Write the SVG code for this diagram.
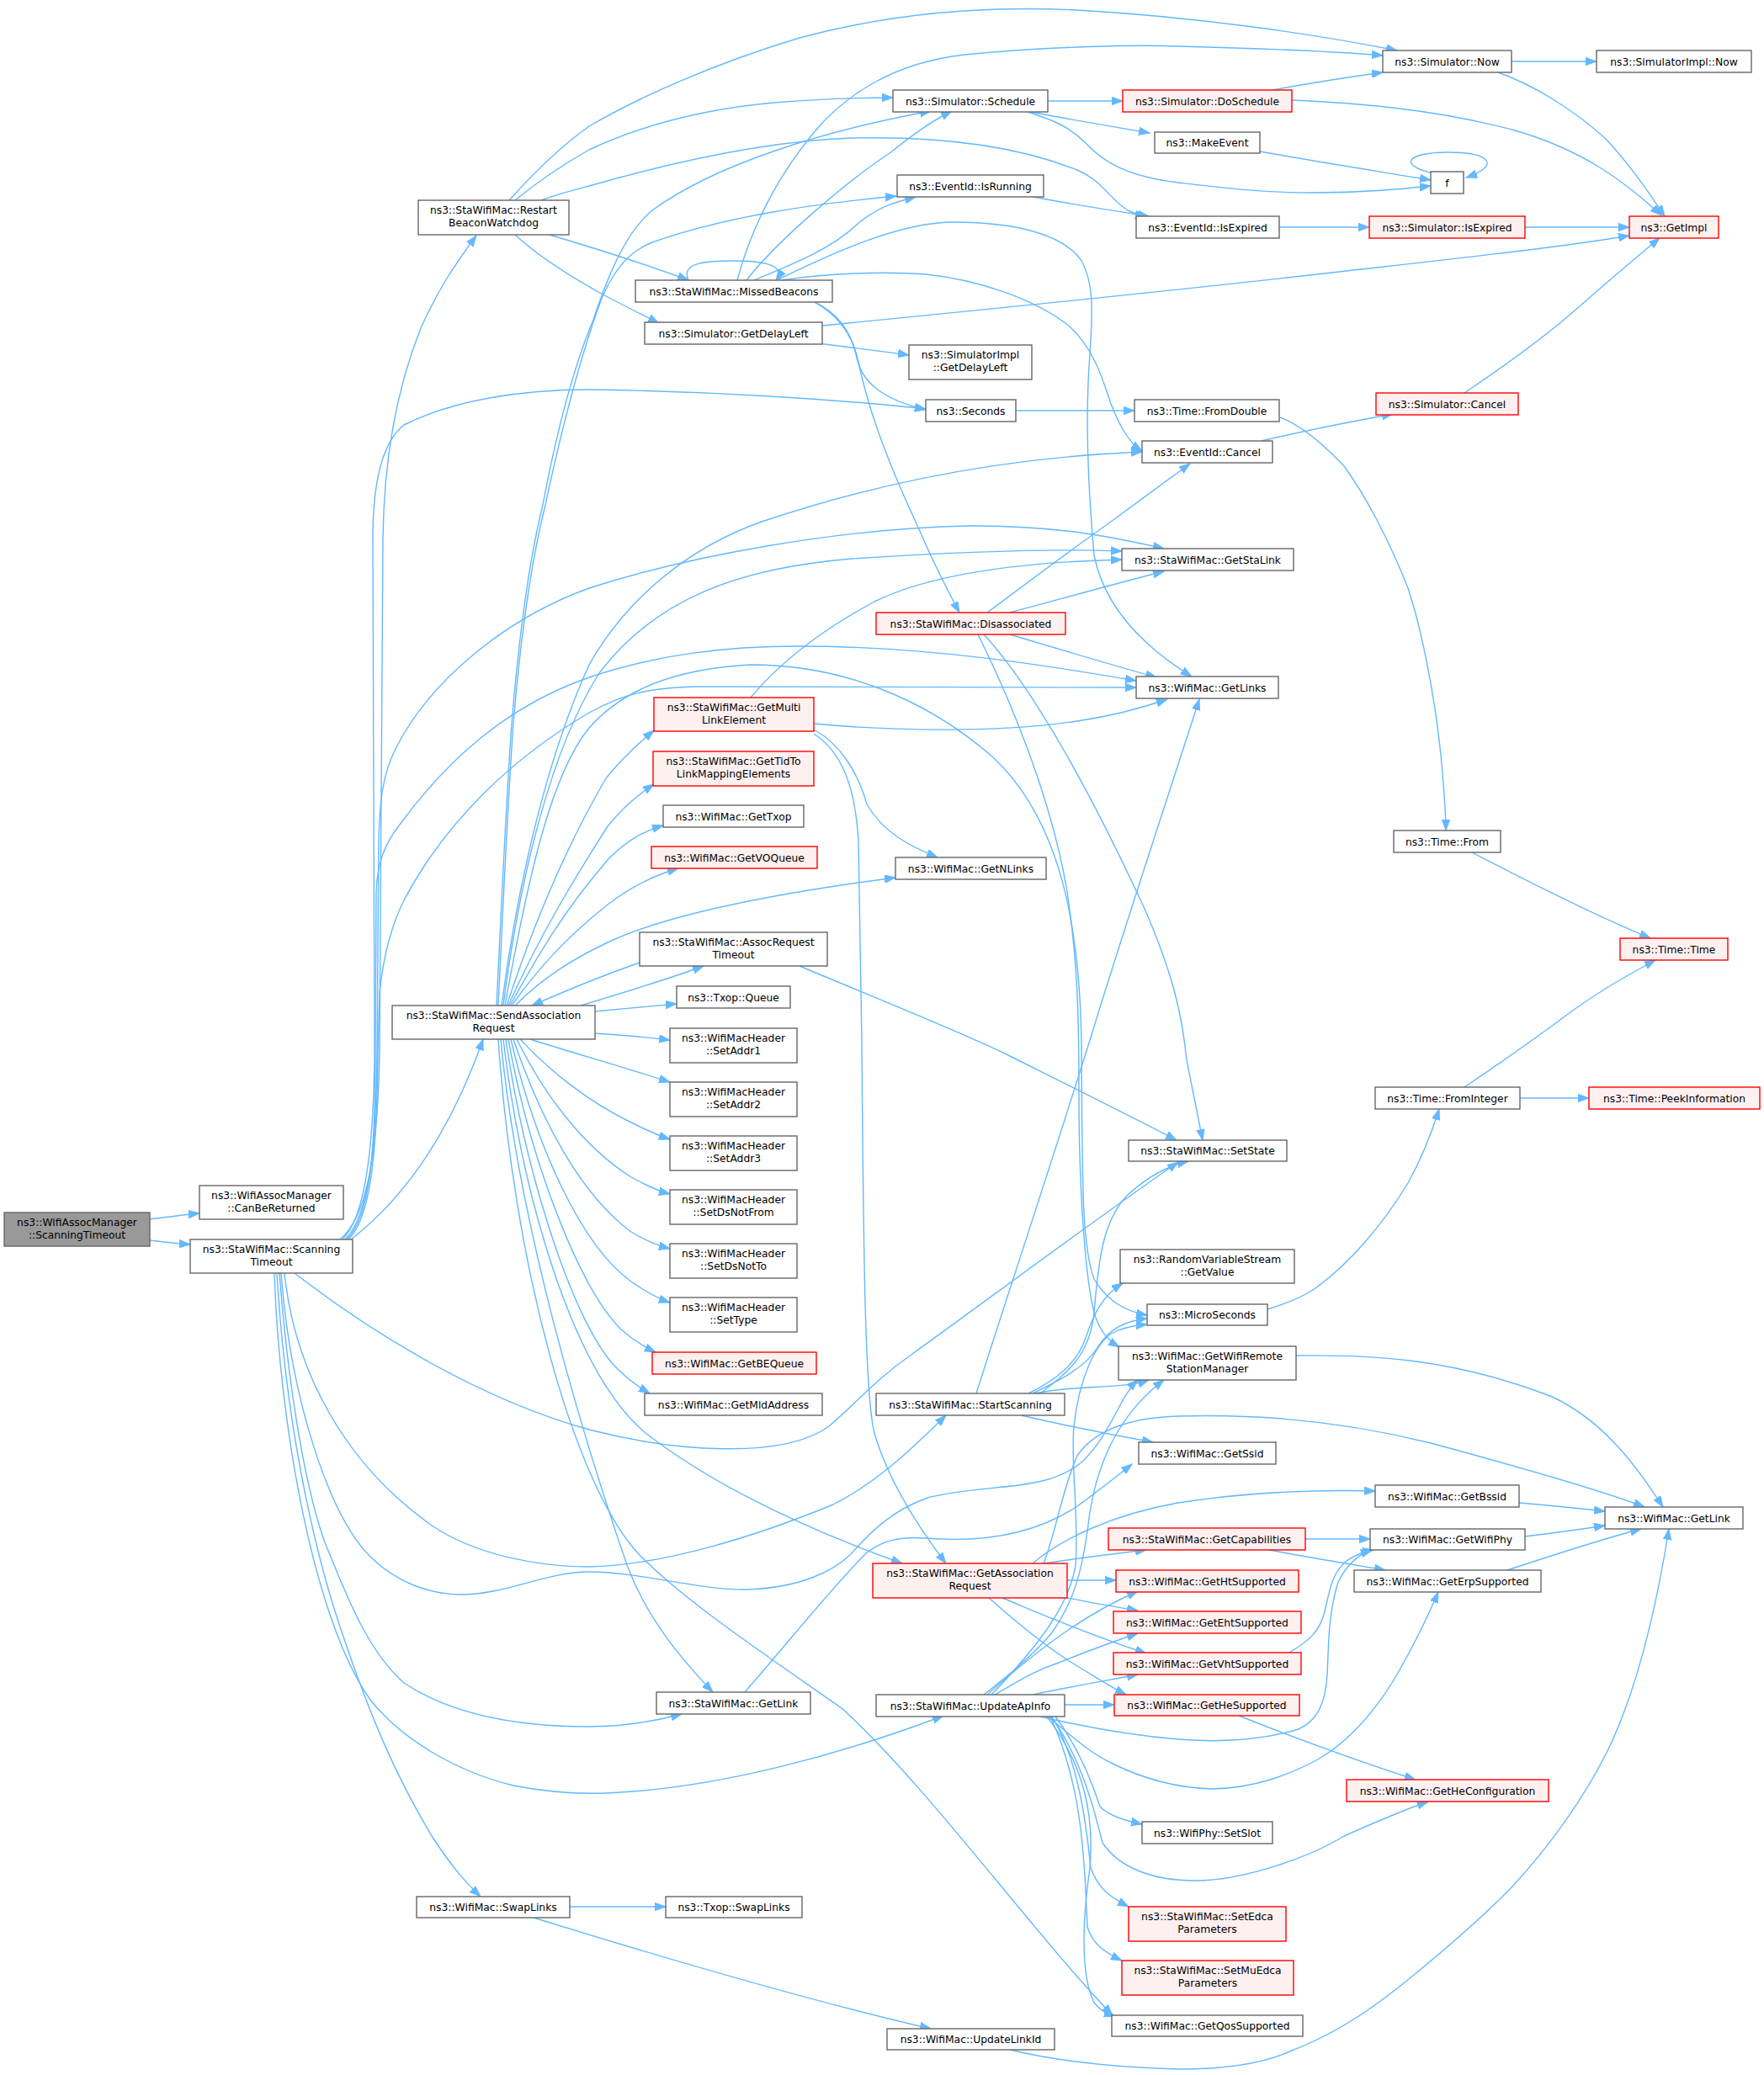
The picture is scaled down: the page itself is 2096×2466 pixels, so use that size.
<svg xmlns="http://www.w3.org/2000/svg" width="2096" height="2466" viewBox="0 0 2096 2466">
<style>
.w{fill:#ffffff;stroke:#666666;stroke-width:1.4}
.r{fill:#fff0f0;stroke:#ff0000;stroke-width:1.4}
.g{fill:#999999;stroke:#666666;stroke-width:1.4}
text{font-family:"DejaVu Sans","Liberation Sans",sans-serif;font-size:12.3px;fill:#000000;text-anchor:middle}
#edges path{fill:none;stroke:#63b8ff;stroke-width:1.4;marker-end:url(#a)}
</style>
<defs>
<marker id="a" markerUnits="userSpaceOnUse" markerWidth="15" markerHeight="12" refX="13" refY="5" orient="auto">
<path d="M0,0.3 L13,5 L0,9.7 z" fill="#63b8ff" stroke="#63b8ff" stroke-width="1"/>
</marker>
</defs>
<rect width="2096" height="2466" fill="#ffffff"/>
<g id="edges">
<path d="M178,1449 C195,1447 215,1444 237,1442"/>
<path d="M178,1474 C195,1476 210,1478 226,1479"/>
<path d="M404,1473 C436,1447 449,1370 451,1250 L455,640 C456,560 468,470 500,390 C520,345 540,315 566,280"/>
<path d="M407,1473 C433,1447 444,1370 445,1250 L443,640 C443,570 455,525 480,505 C540,475 620,463 700,463 C840,465 990,474 1100,486"/>
<path d="M410,1473 C438,1445 447,1370 448,1250 L450,1000 C451,950 455,920 470,890 C510,810 600,735 700,699 C820,660 1000,628 1150,625 C1260,624 1330,640 1383,652"/>
<path d="M412,1473 C440,1445 446,1370 446,1250 L447,1060 C448,1030 455,1005 475,980 C530,905 600,840 700,805 C780,778 860,768 950,768 C1100,768 1240,790 1350,809"/>
<path d="M414,1473 C441,1446 448,1370 449,1250 L451,1180 C455,1140 465,1100 480,1070 C530,975 610,900 700,847 C740,825 770,817 830,816 L1350,817"/>
<path d="M417,1473 C470,1432 530,1360 574,1235"/>
<path d="M350,1513 C430,1575 560,1660 700,1699 C800,1725 930,1735 985,1695 C1020,1665 1040,1640 1080,1612 C1180,1540 1300,1450 1400,1381"/>
<path d="M334,1513 C345,1660 390,1800 440,1850 C470,1880 510,1895 548,1895 C600,1895 650,1868 700,1868 C760,1868 830,1890 887,1889 C950,1887 990,1868 1012,1846 C1035,1820 1060,1795 1102,1780 C1170,1762 1240,1775 1285,1738 C1320,1705 1330,1660 1352,1640"/>
<path d="M326,1513 C332,1700 375,1930 440,2020 C475,2065 540,2105 610,2122 C650,2130 690,2132 720,2131 C850,2126 1000,2085 1121,2039"/>
<path d="M329,1513 C340,1700 375,1850 408,1945 C440,2040 470,2110 513,2182 C538,2220 553,2237 571,2254"/>
<path d="M332,1513 C345,1680 370,1800 393,1850 C415,1905 440,1965 480,2000 C540,2040 620,2052 700,2052 C740,2052 780,2045 810,2037"/>
<path d="M338,1513 C350,1630 410,1740 513,1813 C565,1848 640,1862 700,1862 C790,1860 900,1825 990,1788 C1045,1760 1085,1720 1124,1682"/>
<path d="M590,1195 C597,1050 602,940 608,860 C618,740 630,660 645,600 C660,520 680,440 705,380 C725,320 745,275 775,250 C850,195 980,155 1106,132"/>
<path d="M592,1195 C599,1050 604,940 610,860 C620,740 633,660 648,600 C665,520 685,440 710,368 C725,325 745,300 775,288 C860,258 960,243 1065,233"/>
<path d="M596,1195 C615,1050 650,900 700,790 C745,710 820,650 905,620 C1010,585 1160,545 1357,537"/>
<path d="M598,1195 C618,1040 655,890 712,800 C780,710 880,675 1012,664 C1150,655 1260,652 1333,655"/>
<path d="M600,1195 C628,1040 655,920 700,865 C740,820 800,795 892,790 C1000,790 1100,830 1180,900 C1260,975 1283,1100 1285,1240 C1286,1400 1285,1480 1300,1520 C1315,1545 1335,1558 1363,1563"/>
<path d="M602,1195 C640,1080 682,990 720,925 C740,900 758,884 777,868"/>
<path d="M604,1195 C642,1110 682,1045 722,982 C742,957 760,943 777,932"/>
<path d="M606,1195 C642,1130 672,1080 722,1022 C745,998 765,988 788,981"/>
<path d="M608,1195 C640,1150 672,1115 722,1075 C752,1052 778,1040 806,1032"/>
<path d="M612,1195 C645,1162 680,1140 722,1120 C790,1088 910,1063 1064,1043"/>
<path d="M690,1195 C740,1180 790,1165 836,1148"/>
<path d="M707,1202 C740,1199 770,1196 804,1193"/>
<path d="M707,1228 C740,1230 770,1233 796,1236"/>
<path d="M760,1144 C720,1158 680,1174 632,1195"/>
<path d="M630,1235 C670,1248 730,1265 796,1286"/>
<path d="M618,1235 C652,1272 700,1310 750,1334 C770,1344 784,1350 796,1354"/>
<path d="M614,1235 C646,1300 692,1362 750,1399 C770,1410 784,1416 796,1419"/>
<path d="M610,1235 C642,1330 690,1420 750,1464 C770,1476 784,1481 796,1484"/>
<path d="M607,1235 C636,1360 690,1480 750,1523 C770,1537 784,1544 796,1548"/>
<path d="M604,1235 C630,1380 688,1530 738,1580 C754,1594 766,1601 779,1607"/>
<path d="M601,1235 C625,1400 684,1580 734,1627 C748,1641 760,1649 772,1656"/>
<path d="M598,1235 C620,1420 680,1630 767,1703 C860,1775 980,1825 1072,1858"/>
<path d="M595,1235 C615,1450 690,1700 745,1860 C768,1922 808,1970 847,2011"/>
<path d="M592,1235 C610,1500 680,1760 758,1846 C810,1900 900,1960 1000,2030 C1100,2120 1230,2300 1322,2395"/>
<path d="M967,867 C1000,885 1020,920 1030,956 C1050,990 1080,1005 1114,1019"/>
<path d="M967,872 C998,892 1016,930 1020,1000 L1024,1240 C1026,1500 1028,1670 1040,1707 C1058,1765 1095,1820 1124,1858"/>
<path d="M967,860 C1050,868 1180,872 1280,857 C1320,851 1355,842 1387,831"/>
<path d="M892,829 C920,795 965,755 1039,715 C1110,680 1220,668 1333,665"/>
<path d="M1200,728 C1260,712 1320,695 1383,679"/>
<path d="M1173,728 C1220,693 1280,648 1320,620 C1350,598 1385,572 1414,551"/>
<path d="M1200,754 C1260,772 1320,790 1374,805"/>
<path d="M1169,754 C1230,820 1300,950 1360,1080 C1395,1160 1405,1210 1410,1260 C1418,1300 1424,1330 1429,1355"/>
<path d="M1162,754 C1200,830 1250,950 1268,1060 C1280,1140 1282,1200 1282,1300 C1282,1420 1290,1520 1300,1560 C1306,1580 1315,1592 1330,1601"/>
<path d="M876,333 C890,280 920,210 977,146 C1010,112 1060,75 1146,65 C1250,55 1350,53 1400,55 C1480,57 1570,60 1643,66"/>
<path d="M887,333 C920,290 1000,220 1057,182 C1085,160 1105,145 1131,132"/>
<path d="M896,333 C940,315 990,295 1020,265 C1045,245 1065,240 1088,234"/>
<path d="M818,333 C808,312 840,310 870,310 C905,310 935,314 922,333"/>
<path d="M968,359 C995,375 1012,395 1020,430 C1032,490 1060,560 1088,620 C1105,660 1125,700 1140,728"/>
<path d="M968,359 C995,372 1012,395 1018,425 C1024,455 1050,475 1100,487"/>
<path d="M923,333 C990,300 1070,264 1133,264 C1210,264 1265,280 1285,310 C1305,345 1295,400 1293,455 C1290,530 1295,600 1300,660 C1310,710 1345,760 1416,804"/>
<path d="M928,333 C980,325 1050,322 1100,326 C1160,332 1230,355 1271,388 C1300,415 1310,450 1320,480 C1330,505 1340,525 1357,536"/>
<path d="M605,238 C630,210 665,175 700,150 C760,115 850,75 950,45 C1050,18 1160,6 1280,12 C1420,20 1560,40 1660,60"/>
<path d="M612,238 C640,215 670,195 700,178 C760,150 830,130 920,122 C970,118 1020,116 1061,116"/>
<path d="M643,238 C665,230 685,225 700,221 C780,198 900,168 1012,164 C1100,162 1200,170 1280,202 C1310,215 1320,238 1340,250 C1348,254 1355,256 1362,257"/>
<path d="M653,279 C700,293 770,315 818,333"/>
<path d="M612,279 C640,305 680,330 720,352 C745,365 765,375 783,384"/>
<path d="M1245,120 L1334,120"/>
<path d="M1220,132 C1270,142 1320,150 1366,158"/>
<path d="M1218,132 C1250,142 1270,150 1290,170 C1310,192 1340,210 1400,217 C1460,224 1500,229 1560,229 C1620,229 1660,225 1700,221"/>
<path d="M1227,234 C1270,242 1320,250 1365,257"/>
<path d="M1512,107 C1560,98 1600,92 1643,86"/>
<path d="M1535,119 C1600,122 1700,128 1800,155 C1880,178 1930,215 1974,256"/>
<path d="M1796,73 L1897,73"/>
<path d="M1780,86 C1820,100 1870,130 1909,166 C1940,200 1960,230 1978,257"/>
<path d="M1497,180 C1570,193 1640,204 1700,214"/>
<path d="M1703,206 C1660,196 1672,181 1720,181 C1770,181 1785,196 1742,211"/>
<path d="M1520,270 L1627,270"/>
<path d="M1812,270 L1936,270"/>
<path d="M977,387 C1150,370 1400,345 1600,322 C1750,305 1860,293 1936,280"/>
<path d="M972,408 C1010,413 1045,417 1080,422"/>
<path d="M1207,488 L1348,488"/>
<path d="M1499,524 C1550,512 1600,502 1655,492"/>
<path d="M1740,467 C1780,440 1830,405 1870,370 C1910,335 1945,305 1972,283"/>
<path d="M1521,496 C1540,503 1565,520 1597,554 C1620,585 1650,640 1673,699 C1690,750 1705,830 1712,897 C1716,940 1718,965 1718,987"/>
<path d="M1749,1013 C1820,1050 1900,1090 1961,1115"/>
<path d="M1740,1292 C1780,1265 1830,1230 1870,1200 C1905,1175 1935,1158 1967,1141"/>
<path d="M1806,1305 L1888,1305"/>
<path d="M1506,1556 C1525,1550 1545,1543 1560,1533 C1600,1505 1640,1460 1673,1406 C1690,1375 1700,1350 1710,1318"/>
<path d="M950,1148 C1050,1190 1150,1230 1200,1255 C1280,1295 1340,1325 1398,1355"/>
<path d="M1160,1656 C1200,1530 1260,1350 1300,1220 C1340,1090 1390,940 1425,831"/>
<path d="M1222,1656 C1255,1640 1280,1620 1290,1590 C1300,1560 1310,1540 1334,1525"/>
<path d="M1227,1656 C1260,1640 1290,1625 1305,1600 C1318,1580 1335,1570 1363,1567"/>
<path d="M1236,1656 C1270,1630 1295,1610 1300,1560 C1305,1500 1310,1450 1340,1420 C1365,1397 1390,1385 1412,1380"/>
<path d="M1230,1656 C1280,1645 1330,1652 1365,1640"/>
<path d="M1213,1682 C1270,1695 1320,1705 1370,1714"/>
<path d="M1265,2026 L1324,2026"/>
<path d="M1227,2014 C1270,2005 1310,1998 1352,1990"/>
<path d="M1182,2014 C1210,1998 1230,1985 1258,1976 C1290,1963 1320,1952 1352,1941"/>
<path d="M1173,2014 C1200,1990 1230,1965 1258,1945 C1290,1922 1320,1905 1352,1891"/>
<path d="M1169,2014 C1200,1990 1230,1965 1250,1940 C1275,1905 1285,1870 1292,1820 C1300,1740 1330,1680 1383,1640"/>
<path d="M1178,2014 C1230,1960 1270,1910 1278,1860 C1282,1800 1272,1740 1276,1695 C1282,1640 1300,1600 1320,1585 C1335,1577 1348,1575 1363,1574"/>
<path d="M1236,2040 C1300,2055 1350,2063 1400,2067 C1450,2071 1500,2068 1543,2055 C1565,2045 1575,2025 1577,1990 C1579,1950 1578,1920 1590,1880 C1600,1860 1612,1848 1630,1842"/>
<path d="M1245,2040 C1270,2060 1290,2080 1320,2095 C1360,2115 1400,2125 1441,2126 C1490,2125 1530,2110 1566,2091 C1610,2065 1640,2024 1660,1990 C1680,1955 1695,1925 1709,1892"/>
<path d="M1254,2040 C1280,2075 1295,2110 1307,2147 C1318,2158 1335,2163 1357,2168"/>
<path d="M1249,2040 C1285,2090 1300,2150 1310,2190 C1330,2220 1370,2235 1420,2235 C1480,2235 1560,2205 1597,2182 C1640,2163 1670,2150 1697,2141"/>
<path d="M1250,2040 C1280,2090 1290,2160 1296,2220 C1305,2245 1320,2255 1341,2266"/>
<path d="M1248,2040 C1285,2120 1288,2200 1292,2290 C1298,2310 1312,2320 1333,2330"/>
<path d="M1244,2040 C1290,2100 1300,2160 1295,2220 C1285,2290 1285,2350 1300,2380 C1308,2390 1315,2393 1325,2396"/>
<path d="M1268,1878 L1326,1878"/>
<path d="M1268,1899 C1295,1904 1320,1909 1352,1914"/>
<path d="M1191,1899 C1230,1915 1280,1938 1362,1965"/>
<path d="M1175,1899 C1210,1930 1250,1962 1280,1980 C1305,1995 1320,2005 1338,2014"/>
<path d="M1240,1858 C1280,1852 1320,1847 1362,1842"/>
<path d="M1227,1858 C1260,1830 1320,1800 1400,1786 C1470,1775 1550,1770 1634,1772"/>
<path d="M885,2011 C930,1960 985,1890 1030,1845 C1050,1830 1070,1826 1100,1828 C1150,1832 1220,1830 1280,1790 C1305,1772 1325,1756 1345,1740"/>
<path d="M1240,1858 C1255,1820 1262,1770 1280,1730 C1300,1700 1340,1685 1400,1683 C1500,1680 1600,1690 1700,1715 C1800,1742 1900,1770 1954,1791"/>
<path d="M1551,1829 L1628,1829"/>
<path d="M1508,1842 C1550,1850 1600,1858 1646,1866"/>
<path d="M1532,1964 C1555,1950 1568,1940 1574,1915 C1580,1890 1582,1870 1600,1855 C1610,1848 1620,1844 1632,1842"/>
<path d="M1472,2039 C1540,2066 1620,2095 1682,2115"/>
<path d="M1791,1866 C1840,1850 1900,1830 1950,1817"/>
<path d="M1805,1786 C1840,1789 1870,1792 1907,1796"/>
<path d="M1812,1826 C1845,1822 1875,1818 1907,1813"/>
<path d="M1540,1611 C1620,1610 1720,1612 1842,1659 C1900,1685 1940,1735 1976,1791"/>
<path d="M1200,2436 C1250,2448 1320,2457 1400,2459 C1460,2459 1500,2452 1530,2439 C1580,2420 1620,2395 1664,2360 C1720,2315 1760,2280 1798,2241 C1840,2195 1880,2140 1909,2083 C1940,2020 1965,1930 1983,1817"/>
<path d="M677,2266 L791,2266"/>
<path d="M634,2279 C760,2318 950,2375 1106,2411"/>
</g>
<g id="n1"><rect class="g" x="5" y="1441" width="173" height="40"/><text x="91.5" y="1457.3">ns3::WifiAssocManager<tspan x="91.5" dy="14.5">::ScanningTimeout</tspan></text></g>
<g id="n2"><rect class="w" x="237" y="1409" width="171" height="40"/><text x="322.5" y="1425.3">ns3::WifiAssocManager<tspan x="322.5" dy="14.5">::CanBeReturned</tspan></text></g>
<g id="n3"><rect class="w" x="226" y="1473" width="193" height="40"/><text x="322.5" y="1489.3">ns3::StaWifiMac::Scanning<tspan x="322.5" dy="14.5">Timeout</tspan></text></g>
<g id="n4"><rect class="w" x="497" y="238" width="179" height="41"/><text x="586.5" y="254.3">ns3::StaWifiMac::Restart<tspan x="586.5" dy="14.5">BeaconWatchdog</tspan></text></g>
<g id="n5"><rect class="w" x="466" y="1195" width="241" height="40"/><text x="586.5" y="1211.3">ns3::StaWifiMac::SendAssociation<tspan x="586.5" dy="14.5">Request</tspan></text></g>
<g id="n6"><rect class="w" x="780" y="2011" width="183" height="26"/><text x="871.5" y="2028.5">ns3::StaWifiMac::GetLink</text></g>
<g id="n7"><rect class="w" x="495" y="2254" width="182" height="25"/><text x="586" y="2271">ns3::WifiMac::SwapLinks</text></g>
<g id="n8"><rect class="w" x="755" y="333" width="234" height="26"/><text x="872" y="350.5">ns3::StaWifiMac::MissedBeacons</text></g>
<g id="n9"><rect class="w" x="766" y="383" width="211" height="26"/><text x="871.5" y="400.5">ns3::Simulator::GetDelayLeft</text></g>
<g id="n10"><rect class="w" x="1061" y="107" width="184" height="26"/><text x="1153" y="124.5">ns3::Simulator::Schedule</text></g>
<g id="n11"><rect class="w" x="1066" y="208" width="174" height="26"/><text x="1153" y="225.5">ns3::EventId::IsRunning</text></g>
<g id="n12"><rect class="w" x="1080" y="410" width="146" height="41"/><text x="1153" y="426.3">ns3::SimulatorImpl<tspan x="1153" dy="14.5">::GetDelayLeft</tspan></text></g>
<g id="n13"><rect class="w" x="1100" y="475" width="107" height="26"/><text x="1153.5" y="492.5">ns3::Seconds</text></g>
<g id="n14"><rect class="r" x="1041" y="728" width="225" height="26"/><text x="1153.5" y="745.5">ns3::StaWifiMac::Disassociated</text></g>
<g id="n15"><rect class="r" x="777" y="829" width="190" height="40"/><text x="872" y="845.3">ns3::StaWifiMac::GetMulti<tspan x="872" dy="14.5">LinkElement</tspan></text></g>
<g id="n16"><rect class="r" x="776" y="893" width="191" height="41"/><text x="871.5" y="909.3">ns3::StaWifiMac::GetTidTo<tspan x="871.5" dy="14.5">LinkMappingElements</tspan></text></g>
<g id="n17"><rect class="w" x="788" y="957" width="167" height="26"/><text x="871.5" y="974.5">ns3::WifiMac::GetTxop</text></g>
<g id="n18"><rect class="r" x="774" y="1006" width="197" height="26"/><text x="872.5" y="1023.5">ns3::WifiMac::GetVOQueue</text></g>
<g id="n19"><rect class="w" x="1064" y="1019" width="179" height="26"/><text x="1153.5" y="1036.5">ns3::WifiMac::GetNLinks</text></g>
<g id="n20"><rect class="w" x="760" y="1108" width="223" height="40"/><text x="871.5" y="1124.3">ns3::StaWifiMac::AssocRequest<tspan x="871.5" dy="14.5">Timeout</tspan></text></g>
<g id="n21"><rect class="w" x="804" y="1172" width="135" height="26"/><text x="871.5" y="1189.5">ns3::Txop::Queue</text></g>
<g id="n22"><rect class="w" x="796" y="1222" width="151" height="41"/><text x="871.5" y="1238.3">ns3::WifiMacHeader<tspan x="871.5" dy="14.5">::SetAddr1</tspan></text></g>
<g id="n23"><rect class="w" x="796" y="1286" width="151" height="41"/><text x="871.5" y="1302.3">ns3::WifiMacHeader<tspan x="871.5" dy="14.5">::SetAddr2</tspan></text></g>
<g id="n24"><rect class="w" x="796" y="1350" width="151" height="41"/><text x="871.5" y="1366.3">ns3::WifiMacHeader<tspan x="871.5" dy="14.5">::SetAddr3</tspan></text></g>
<g id="n25"><rect class="w" x="796" y="1414" width="151" height="41"/><text x="871.5" y="1430.3">ns3::WifiMacHeader<tspan x="871.5" dy="14.5">::SetDsNotFrom</tspan></text></g>
<g id="n26"><rect class="w" x="796" y="1478" width="151" height="41"/><text x="871.5" y="1494.3">ns3::WifiMacHeader<tspan x="871.5" dy="14.5">::SetDsNotTo</tspan></text></g>
<g id="n27"><rect class="w" x="796" y="1542" width="151" height="41"/><text x="871.5" y="1558.3">ns3::WifiMacHeader<tspan x="871.5" dy="14.5">::SetType</tspan></text></g>
<g id="n28"><rect class="r" x="775" y="1607" width="195" height="26"/><text x="872.5" y="1624.5">ns3::WifiMac::GetBEQueue</text></g>
<g id="n29"><rect class="w" x="766" y="1656" width="211" height="26"/><text x="871.5" y="1673.5">ns3::WifiMac::GetMldAddress</text></g>
<g id="n30"><rect class="w" x="1041" y="1656" width="224" height="26"/><text x="1153" y="1673.5">ns3::StaWifiMac::StartScanning</text></g>
<g id="n31"><rect class="r" x="1037" y="1858" width="231" height="41"/><text x="1152.5" y="1874.3">ns3::StaWifiMac::GetAssociation<tspan x="1152.5" dy="14.5">Request</tspan></text></g>
<g id="n32"><rect class="w" x="1041" y="2014" width="224" height="26"/><text x="1153" y="2031.5">ns3::StaWifiMac::UpdateApInfo</text></g>
<g id="n33"><rect class="w" x="791" y="2254" width="162" height="25"/><text x="872" y="2271">ns3::Txop::SwapLinks</text></g>
<g id="n34"><rect class="w" x="1054" y="2411" width="199" height="25"/><text x="1153.5" y="2428">ns3::WifiMac::UpdateLinkId</text></g>
<g id="n35"><rect class="w" x="1643" y="60" width="153" height="26"/><text x="1719.5" y="77.5">ns3::Simulator::Now</text></g>
<g id="n36"><rect class="r" x="1334" y="107" width="201" height="26"/><text x="1434.5" y="124.5">ns3::Simulator::DoSchedule</text></g>
<g id="n37"><rect class="w" x="1372" y="157" width="125" height="25"/><text x="1434.5" y="174">ns3::MakeEvent</text></g>
<g id="n38"><rect class="w" x="1350" y="257" width="170" height="26"/><text x="1435" y="274.5">ns3::EventId::IsExpired</text></g>
<g id="n39"><rect class="w" x="1348" y="475" width="172" height="26"/><text x="1434" y="492.5">ns3::Time::FromDouble</text></g>
<g id="n40"><rect class="w" x="1357" y="524" width="155" height="26"/><text x="1434.5" y="541.5">ns3::EventId::Cancel</text></g>
<g id="n41"><rect class="w" x="1333" y="652" width="204" height="26"/><text x="1435" y="669.5">ns3::StaWifiMac::GetStaLink</text></g>
<g id="n42"><rect class="w" x="1350" y="804" width="169" height="26"/><text x="1434.5" y="821.5">ns3::WifiMac::GetLinks</text></g>
<g id="n43"><rect class="w" x="1341" y="1355" width="188" height="25"/><text x="1435" y="1372">ns3::StaWifiMac::SetState</text></g>
<g id="n44"><rect class="w" x="1331" y="1485" width="207" height="40"/><text x="1434.5" y="1501.3">ns3::RandomVariableStream<tspan x="1434.5" dy="14.5">::GetValue</tspan></text></g>
<g id="n45"><rect class="w" x="1363" y="1550" width="143" height="25"/><text x="1434.5" y="1567">ns3::MicroSeconds</text></g>
<g id="n46"><rect class="w" x="1329" y="1600" width="211" height="40"/><text x="1434.5" y="1616.3">ns3::WifiMac::GetWifiRemote<tspan x="1434.5" dy="14.5">StationManager</tspan></text></g>
<g id="n47"><rect class="w" x="1353" y="1714" width="163" height="26"/><text x="1434.5" y="1731.5">ns3::WifiMac::GetSsid</text></g>
<g id="n48"><rect class="w" x="1634" y="1765" width="171" height="26"/><text x="1719.5" y="1782.5">ns3::WifiMac::GetBssid</text></g>
<g id="n49"><rect class="r" x="1317" y="1816" width="234" height="26"/><text x="1434" y="1833.5">ns3::StaWifiMac::GetCapabilities</text></g>
<g id="n50"><rect class="r" x="1326" y="1866" width="217" height="26"/><text x="1434.5" y="1883.5">ns3::WifiMac::GetHtSupported</text></g>
<g id="n51"><rect class="r" x="1323" y="1915" width="223" height="26"/><text x="1434.5" y="1932.5">ns3::WifiMac::GetEhtSupported</text></g>
<g id="n52"><rect class="r" x="1323" y="1964" width="223" height="26"/><text x="1434.5" y="1981.5">ns3::WifiMac::GetVhtSupported</text></g>
<g id="n53"><rect class="r" x="1324" y="2014" width="220" height="25"/><text x="1434" y="2031">ns3::WifiMac::GetHeSupported</text></g>
<g id="n54"><rect class="w" x="1357" y="2165" width="155" height="26"/><text x="1434.5" y="2182.5">ns3::WifiPhy::SetSlot</text></g>
<g id="n55"><rect class="r" x="1341" y="2266" width="187" height="41"/><text x="1434.5" y="2282.3">ns3::StaWifiMac::SetEdca<tspan x="1434.5" dy="14.5">Parameters</tspan></text></g>
<g id="n56"><rect class="r" x="1333" y="2330" width="204" height="41"/><text x="1435" y="2346.3">ns3::StaWifiMac::SetMuEdca<tspan x="1435" dy="14.5">Parameters</tspan></text></g>
<g id="n57"><rect class="w" x="1321" y="2395" width="227" height="25"/><text x="1434.5" y="2412">ns3::WifiMac::GetQosSupported</text></g>
<g id="n58"><rect class="w" x="1897" y="60" width="184" height="26"/><text x="1989" y="77.5">ns3::SimulatorImpl::Now</text></g>
<g id="n59"><rect class="w" x="1700" y="204" width="39" height="26"/><text x="1719.5" y="221.5">f</text></g>
<g id="n60"><rect class="r" x="1627" y="257" width="185" height="26"/><text x="1719.5" y="274.5">ns3::Simulator::IsExpired</text></g>
<g id="n61"><rect class="r" x="1936" y="257" width="106" height="26"/><text x="1989" y="274.5">ns3::GetImpl</text></g>
<g id="n62"><rect class="r" x="1635" y="467" width="169" height="26"/><text x="1719.5" y="484.5">ns3::Simulator::Cancel</text></g>
<g id="n63"><rect class="w" x="1656" y="987" width="127" height="26"/><text x="1719.5" y="1004.5">ns3::Time::From</text></g>
<g id="n64"><rect class="r" x="1925" y="1115" width="128" height="26"/><text x="1989" y="1132.5">ns3::Time::Time</text></g>
<g id="n65"><rect class="w" x="1634" y="1292" width="172" height="26"/><text x="1720" y="1309.5">ns3::Time::FromInteger</text></g>
<g id="n66"><rect class="r" x="1888" y="1292" width="203" height="26"/><text x="1989.5" y="1309.5">ns3::Time::PeekInformation</text></g>
<g id="n67"><rect class="w" x="1907" y="1791" width="164" height="26"/><text x="1989" y="1808.5">ns3::WifiMac::GetLink</text></g>
<g id="n68"><rect class="w" x="1628" y="1817" width="184" height="25"/><text x="1720" y="1834">ns3::WifiMac::GetWifiPhy</text></g>
<g id="n69"><rect class="w" x="1609" y="1866" width="222" height="26"/><text x="1720" y="1883.5">ns3::WifiMac::GetErpSupported</text></g>
<g id="n70"><rect class="r" x="1600" y="2115" width="240" height="26"/><text x="1720" y="2132.5">ns3::WifiMac::GetHeConfiguration</text></g>
</svg>
